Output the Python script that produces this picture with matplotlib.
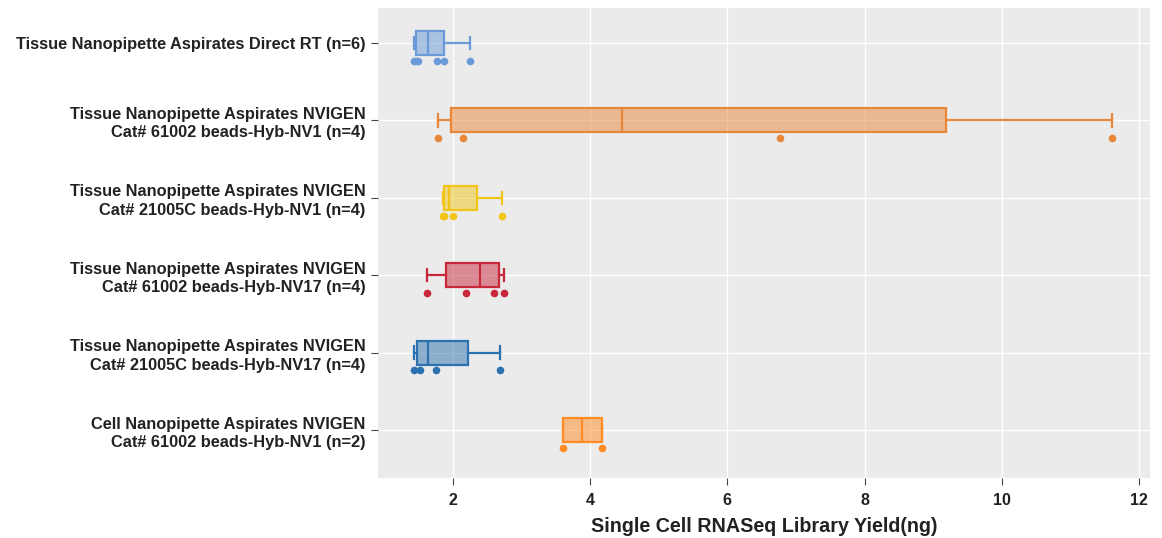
import numpy as np
import matplotlib
matplotlib.use("Agg")
import matplotlib.pyplot as plt

# groups, top to bottom
labels = [
    "Tissue Nanopipette Aspirates Direct RT (n=6)",
    "Tissue Nanopipette Aspirates NVIGEN\nCat# 61002 beads-Hyb-NV1 (n=4)",
    "Tissue Nanopipette Aspirates NVIGEN\nCat# 21005C beads-Hyb-NV1 (n=4)",
    "Tissue Nanopipette Aspirates NVIGEN\nCat# 61002 beads-Hyb-NV17 (n=4)",
    "Tissue Nanopipette Aspirates NVIGEN\nCat# 21005C beads-Hyb-NV17 (n=4)",
    "Cell Nanopipette Aspirates NVIGEN\nCat# 61002 beads-Hyb-NV1 (n=2)",
]
direct_rt = [1.44, 1.47, 1.50, 1.77, 1.87, 2.25]
nv1_61002 = [1.79, 2.15, 6.77, 11.60]
nv1_21005c = [1.86, 1.88, 2.00, 2.72]
nv17_61002 = [1.62, 2.19, 2.60, 2.74]
nv17_21005c = [1.44, 1.52, 1.76, 2.69]
cell_nv1_61002 = [3.61, 4.17]
groups = [direct_rt, nv1_61002, nv1_21005c, nv17_61002, nv17_21005c, cell_nv1_61002]
colors = ["#6a9bd8", "#e8873a", "#f0c419", "#c8283c", "#2c72b0", "#ff8c24"]


def half_median_stats(vals):
    # quartiles as medians of the lower / upper halves
    v = np.sort(np.asarray(vals, dtype=float))
    n = len(v)
    med = np.median(v)
    lo, hi = v[: n // 2], v[(n + 1) // 2:]
    q1, q3 = np.median(lo), np.median(hi)
    iqr = q3 - q1
    inside = v[(v >= q1 - 1.5 * iqr) & (v <= q3 + 1.5 * iqr)]
    return dict(med=med, q1=q1, q3=q3, whislo=inside.min(), whishi=inside.max(), fliers=[])


plt.rcParams["font.family"] = ["Liberation Sans", "DejaVu Sans"]
fig = plt.figure(figsize=(11.62, 5.38), dpi=100)
ax = fig.add_axes([0.3253, 0.1115, 0.6644, 0.8735])
ax.set_facecolor("#ebebeb")

pos = np.arange(len(groups))
for i, (vals, c) in enumerate(zip(groups, colors)):
    st = half_median_stats(vals)
    ax.bxp([st], positions=[pos[i]], widths=0.31, orientation="horizontal",
           patch_artist=True, showfliers=False, capwidths=0.16,
           boxprops=dict(facecolor=matplotlib.colors.to_rgba(c, 0.5), edgecolor=c, linewidth=1.6),
           medianprops=dict(color=c, linewidth=1.6),
           whiskerprops=dict(color=c, linewidth=1.6),
           capprops=dict(color=c, linewidth=1.6))
    ax.plot(vals, [pos[i] + 0.23] * len(vals), "o", color=c, ms=5.5, mew=0, zorder=3)

ax.set_xlim(0.912, 12.156)
ax.set_ylim(5.62, -0.45)
ax.set_xticks([2, 4, 6, 8, 10, 12])
ax.set_yticks(pos)
ax.set_yticklabels(labels, fontsize=11.8, fontweight="bold", color="#222222",
                   linespacing=1.3)
ax.tick_params(axis="x", labelsize=11.5, colors="#444444", length=5, pad=6)
ax.tick_params(axis="y", colors="#444444", length=5, pad=4)
for t in ax.get_xticklabels():
    t.set_fontweight("bold")
    t.set_color("#222222")
for t in ax.get_yticklabels():
    t.set_color("#222222")
ax.grid(True, color="white", linewidth=1.0)
ax.set_axisbelow(True)
for s in ax.spines.values():
    s.set_visible(False)
ax.set_xlabel("Single Cell RNASeq Library Yield(ng)", fontsize=14.2, fontweight="bold",
              color="#222222", labelpad=6)

fig.savefig("out.png", dpi=100)
